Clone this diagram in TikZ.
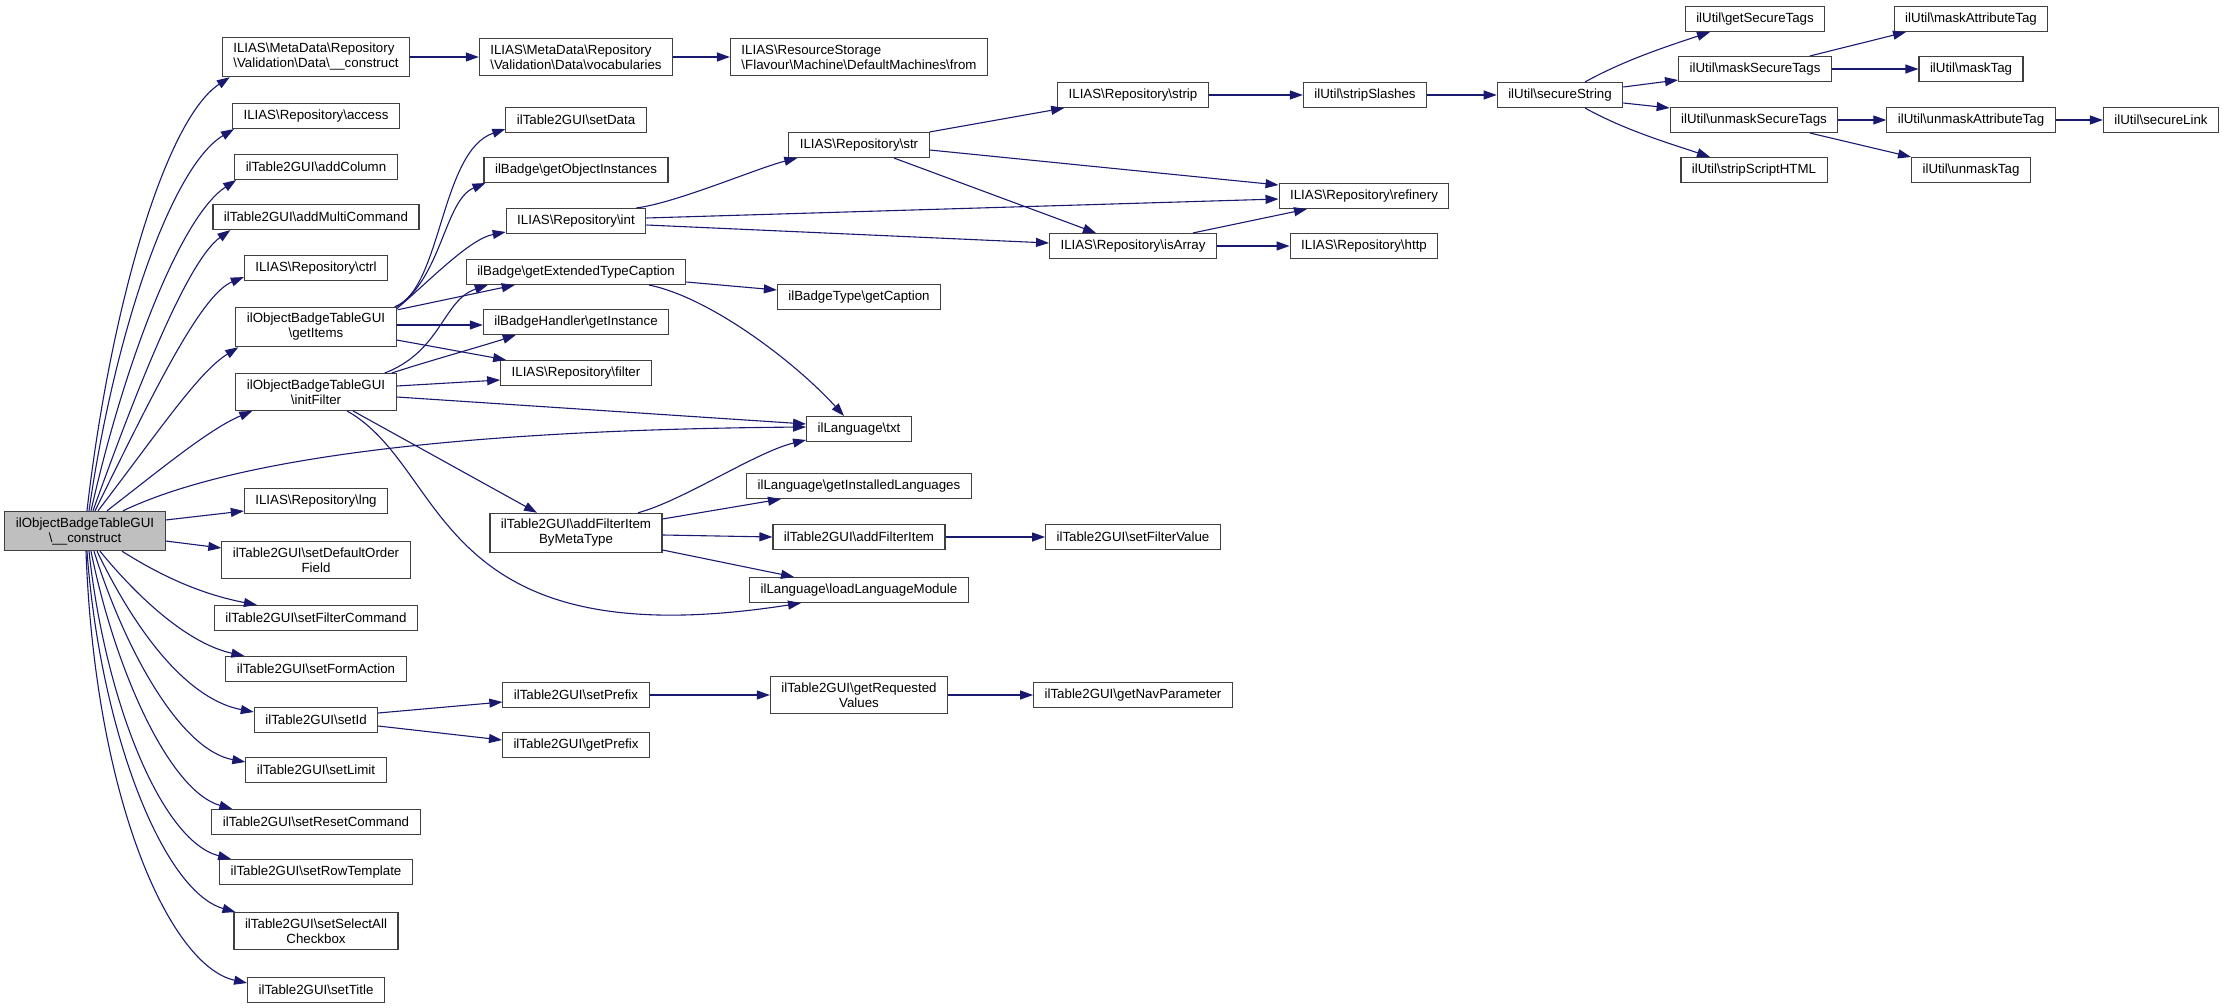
\documentclass[tikz,border=0pt]{standalone}
\usepackage{fontspec}
\setmainfont{Liberation Sans}
\usepackage{xcolor}
\usetikzlibrary{arrows.meta,calc,positioning}

\definecolor{edgeblue}{RGB}{25,25,112}
\definecolor{boxgray}{RGB}{64,64,64}
\definecolor{rootgray}{RGB}{191,191,191}
\newcommand{\bs}{\textbackslash}

\begin{document}
\begin{tikzpicture}[x=1pt, y=-1pt]

	\tikzset{
	fn/.style={draw=boxgray, line width=1.1pt, fill=white, inner xsep=11pt, inner ysep=6pt, minimum height=25pt, align=center, font=\fontsize{13.3}{15}\selectfont},
	fnleft/.style={fn, align=left},
	root/.style={fn, fill=rootgray},
	call/.style={draw=edgeblue, line width=1.1pt, -{Triangle[length=13pt,width=9pt]}}
	}

	\useasboundingbox (0,0) rectangle (2224,1008);

	% Nodes
	\node[root] (main) at (85,531) {ilObjectBadgeTableGUI\\\bs\_\_construct};

	\node[fnleft] (mdconstruct) at (316,57) {ILIAS\bs MetaData\bs Repository\\\bs Validation\bs Data\bs\_\_construct};
	\node[fn] (access) at (316,116) {ILIAS\bs Repository\bs access};
	\node[fn] (addcolumn) at (316,167) {ilTable2GUI\bs addColumn};
	\node[fn] (addmulti) at (316,217) {ilTable2GUI\bs addMultiCommand};
	\node[fn] (ctrl) at (316,268) {ILIAS\bs Repository\bs ctrl};
	\node[fn] (getitems) at (316,327) {ilObjectBadgeTableGUI\\\bs getItems};
	\node[fn] (initfilter) at (316,392) {ilObjectBadgeTableGUI\\\bs initFilter};
	\node[fn] (lng) at (316,501) {ILIAS\bs Repository\bs lng};
	\node[fn] (setdeforder) at (316,560) {ilTable2GUI\bs setDefaultOrder\\Field};
	\node[fn] (setfiltercmd) at (316,618) {ilTable2GUI\bs setFilterCommand};
	\node[fn] (setformaction) at (316,669) {ilTable2GUI\bs setFormAction};
	\node[fn] (setid) at (316,720) {ilTable2GUI\bs setId};
	\node[fn] (setlimit) at (316,770) {ilTable2GUI\bs setLimit};
	\node[fn] (setresetcmd) at (316,822) {ilTable2GUI\bs setResetCommand};
	\node[fn] (setrowtpl) at (316,872) {ilTable2GUI\bs setRowTemplate};
	\node[fn] (setselectall) at (316,931) {ilTable2GUI\bs setSelectAll\\Checkbox};
	\node[fn] (settitle) at (316,990) {ilTable2GUI\bs setTitle};

	\node[fnleft] (vocabularies) at (576,57) {ILIAS\bs MetaData\bs Repository\\\bs Validation\bs Data\bs vocabularies};
	\node[fn] (setdata) at (576,120) {ilTable2GUI\bs setData};
	\node[fn] (getobjinst) at (576,170) {ilBadge\bs getObjectInstances};
	\node[fn] (int) at (576,221) {ILIAS\bs Repository\bs int};
	\node[fn] (getexttype) at (576,272) {ilBadge\bs getExtendedTypeCaption};
	\node[fn] (getinstance) at (576,322) {ilBadgeHandler\bs getInstance};
	\node[fn] (filter) at (576,373) {ILIAS\bs Repository\bs filter};
	\node[fn] (addbymeta) at (576,533) {ilTable2GUI\bs addFilterItem\\ByMetaType};
	\node[fn] (setprefix) at (576,695) {ilTable2GUI\bs setPrefix};
	\node[fn] (getprefix) at (576,745) {ilTable2GUI\bs getPrefix};

	\node[fnleft] (fromdefault) at (859,57) {ILIAS\bs ResourceStorage\\\bs Flavour\bs Machine\bs DefaultMachines\bs from};
	\node[fn] (str) at (859,145) {ILIAS\bs Repository\bs str};
	\node[fn] (getcaption) at (859,297) {ilBadgeType\bs getCaption};
	\node[fn] (txt) at (859,429) {ilLanguage\bs txt};
	\node[fn] (getinstlang) at (859,486) {ilLanguage\bs getInstalledLanguages};
	\node[fn] (addfilteritem) at (859,537) {ilTable2GUI\bs addFilterItem};
	\node[fn] (loadlangmod) at (859,590) {ilLanguage\bs loadLanguageModule};
	\node[fn] (getreqvalues) at (859,695) {ilTable2GUI\bs getRequested\\Values};

	\node[fn] (strip) at (1133,95) {ILIAS\bs Repository\bs strip};
	\node[fn] (isarray) at (1133,246) {ILIAS\bs Repository\bs isArray};
	\node[fn] (setfiltervalue) at (1133,537) {ilTable2GUI\bs setFilterValue};
	\node[fn] (getnavparam) at (1133,695) {ilTable2GUI\bs getNavParameter};

	\node[fn] (stripslashes) at (1365,95) {ilUtil\bs stripSlashes};
	\node[fn] (refinery) at (1364,196) {ILIAS\bs Repository\bs refinery};
	\node[fn] (http) at (1364,246) {ILIAS\bs Repository\bs http};

	\node[fn] (securestring) at (1560,95) {ilUtil\bs secureString};

	\node[fn] (getsecuretags) at (1755,19) {ilUtil\bs getSecureTags};
	\node[fn] (masksecuretags) at (1755,69) {ilUtil\bs maskSecureTags};
	\node[fn] (unmasksecuretags) at (1754,120) {ilUtil\bs unmaskSecureTags};
	\node[fn] (stripscript) at (1754,170) {ilUtil\bs stripScriptHTML};

	\node[fn] (maskattrtag) at (1971,19) {ilUtil\bs maskAttributeTag};
	\node[fn] (masktag) at (1971,69) {ilUtil\bs maskTag};
	\node[fn] (unmaskattrtag) at (1971,120) {ilUtil\bs unmaskAttributeTag};
	\node[fn] (unmasktag) at (1971,170) {ilUtil\bs unmaskTag};

	\node[fn] (securelink) at (2161,120) {ilUtil\bs secureLink};

	% Lines from the constructor
	\draw[call] ($(main.north)+(2,0)$) .. controls +(23,-201) and +(-65,43) .. ($(mdconstruct.south west)+(8,0)$);
	\draw[call] ($(main.north)+(4,0)$) .. controls +(26,-181) and +(-62,37) .. ($(access.south west)+(2,0)$);
	\draw[call] ($(main.north)+(6,0)$) .. controls +(34,-151) and +(-55,36) .. ($(addcolumn.south west)+(2,0)$);
	\draw[call] ($(main.north)+(8,0)$) .. controls +(47,-131) and +(-42,30) .. ($(addmulti.south west)+(18,0)$);
	\draw[call] ($(main.north)+(10,0)$) .. controls +(55,-111) and +(-44,18) .. ($(ctrl.south west)+(0,-4)$);
	\draw[call] ($(main.north)+(13,0)$) .. controls +(62,-81) and +(-40,25) .. ($(getitems.south west)+(3,0)$);
	\draw[call] ($(main.north)+(22,0)$) .. controls +(53,-41) and +(-43,18) .. ($(initfilter.south west)+(17,0)$);
	\draw[call] ($(main.north)+(38,0)$) .. controls +(107,-51) and +(-358,3) .. ($(txt.west)+(0,-2)$);
	\draw[call] ($(main.east)+(0,-11)$) -- ($(lng.west)+(0,10)$);
	\draw[call] ($(main.east)+(0,10)$) -- ($(setdeforder.west)+(0,-12)$);
	\draw[call] ($(main.south)+(37,0)$) .. controls +(38,24) and +(-57,-11) .. ($(setfiltercmd.north west)+(43,0)$);
	\draw[call] ($(main.south)+(15,0)$) .. controls +(40,49) and +(-55,-12) .. ($(setformaction.north west)+(19,0)$);
	\draw[call] ($(main.south)+(12,0)$) .. controls +(43,89) and +(-63,-12) .. ($(setid.west)+(0,-8)$);
	\draw[call] ($(main.south)+(9,0)$) .. controls +(31,99) and +(-65,-12) .. ($(setlimit.west)+(0,-8)$);
	\draw[call] ($(main.south)+(6,0)$) .. controls +(24,119) and +(-63,-18) .. ($(setresetcmd.north west)+(21,0)$);
	\draw[call] ($(main.south)+(4,0)$) .. controls +(16,149) and +(-70,-18) .. ($(setrowtpl.north west)+(12,0)$);
	\draw[call] ($(main.south)+(2,0)$) .. controls +(13,179) and +(-73,-21) .. ($(setselectall.north west)+(2,0)$);
	\draw[call] ($(main.south)+(1,0)$) .. controls +(9,249) and +(-77,-17) .. ($(settitle.west)+(0,-7)$);

	% Lines, second column
	\draw[call] (mdconstruct) -- (vocabularies);
	\draw[call] (vocabularies) -- (fromdefault);

	\draw[call] ($(getitems.north east)+(-2,0)$) .. controls +(47,-17) and +(-65,22) .. ($(setdata.south west)+(0,-4)$);
	\draw[call] (getitems.north east) .. controls +(45,-28) and +(-41,17) .. ($(getobjinst.south west)+(2,0)$);
	\draw[call] ($(getitems.north east)+(0,2)$) .. controls +(35,-30) and +(-36,7) .. ($(int.west)+(0,11)$);
	\draw[call] ($(getitems.north east)+(1,3)$) -- ($(getexttype.south west)+(49,0)$);
	\draw[call] ($(getitems.east)+(0,-2)$) -- ($(getinstance.west)+(0,3)$);
	\draw[call] ($(getitems.east)+(0,13)$) -- ($(filter.north west)+(6,0)$);

	\draw[call] ($(initfilter.north east)+(-12,0)$) .. controls +(57,-22) and +(-45,15) .. ($(getexttype.south west)+(22,0)$);
	\draw[call] ($(initfilter.north east)+(-5,0)$) .. controls +(30,-10) and +(-30,10) .. ($(getinstance.south west)+(33,0)$);
	\draw[call] ($(initfilter.east)+(0,-6)$) -- ($(filter.west)+(0,7)$);
	\draw[call] ($(initfilter.east)+(0,5)$) -- ($(txt.west)+(0,-5)$);
	\draw[call] ($(initfilter.south)+(37,0)$) -- ($(addbymeta.north)+(-39,0)$);
	\draw[call] ($(initfilter.south)+(31,0)$) .. controls +(103,58) and +(-371,58) .. ($(loadlangmod.south)+(-58,0)$);

	\draw[call] ($(setid.east)+(0,-7)$) -- ($(setprefix.west)+(0,7)$);
	\draw[call] ($(setid.east)+(0,6)$) -- ($(getprefix.west)+(0,-5)$);

	% Lines, third column and on
	\draw[call] ($(int.north east)+(-10,0)$) .. controls +(40,-5) and +(-40,10) .. ($(str.south west)+(9,0)$);
	\draw[call] ($(int.east)+(0,-3)$) -- ($(refinery.west)+(0,3)$);
	\draw[call] ($(int.east)+(0,4)$) -- ($(isarray.west)+(0,-3)$);

	\draw[call] ($(getexttype.east)+(0,10)$) -- ($(getcaption.west)+(0,-7)$);
	\draw[call] ($(getexttype.south)+(73,0)$) .. controls +(60,12) and +(-50,-55) .. ($(txt.north)+(-15,0)$);

	\draw[call] ($(addbymeta.north)+(62,0)$) .. controls +(45,-12) and +(-50,12) .. ($(txt.west)+(0,11)$);
	\draw[call] ($(addbymeta.east)+(0,-14)$) -- ($(getinstlang.south)+(-78,0)$);
	\draw[call] ($(addbymeta.east)+(0,2)$) -- (addfilteritem.west);
	\draw[call] ($(addbymeta.east)+(0,17)$) -- ($(loadlangmod.north)+(-65,0)$);
	\draw[call] (addfilteritem) -- (setfiltervalue);

	\draw[call] (setprefix) -- (getreqvalues);
	\draw[call] (getreqvalues) -- (getnavparam);

	\draw[call] (str.north east) -- ($(strip.south west)+(7,0)$);
	\draw[call] ($(str.east)+(0,5)$) -- ($(refinery.west)+(0,-11)$);
	\draw[call] ($(str.south)+(35,0)$) -- ($(isarray.north)+(-37,0)$);
	\draw[call] ($(isarray.north)+(60,0)$) -- ($(refinery.south)+(-57,0)$);
	\draw[call] (isarray) -- (http);
	\draw[call] (strip) -- (stripslashes);
	\draw[call] (stripslashes) -- (securestring);

	\draw[call] ($(securestring.north)+(25,0)$) .. controls +(40,-22) and +(-45,15) .. ($(getsecuretags.south)+(-45,0)$);
	\draw[call] ($(securestring.east)+(0,-8)$) -- ($(masksecuretags.west)+(0,11)$);
	\draw[call] ($(securestring.east)+(0,8)$) -- ($(unmasksecuretags.west)+(0,-12)$);
	\draw[call] ($(securestring.south)+(25,0)$) .. controls +(40,22) and +(-45,-15) .. ($(stripscript.north)+(-44,0)$);
	\draw[call] ($(masksecuretags.north)+(55,0)$) -- ($(maskattrtag.south)+(-65,0)$);
	\draw[call] (masksecuretags) -- (masktag);
	\draw[call] (unmasksecuretags) -- (unmaskattrtag);
	\draw[call] ($(unmasksecuretags.south)+(56,0)$) -- ($(unmasktag.north)+(-60,0)$);
	\draw[call] (unmaskattrtag) -- (securelink);

\end{tikzpicture}
\end{document}
